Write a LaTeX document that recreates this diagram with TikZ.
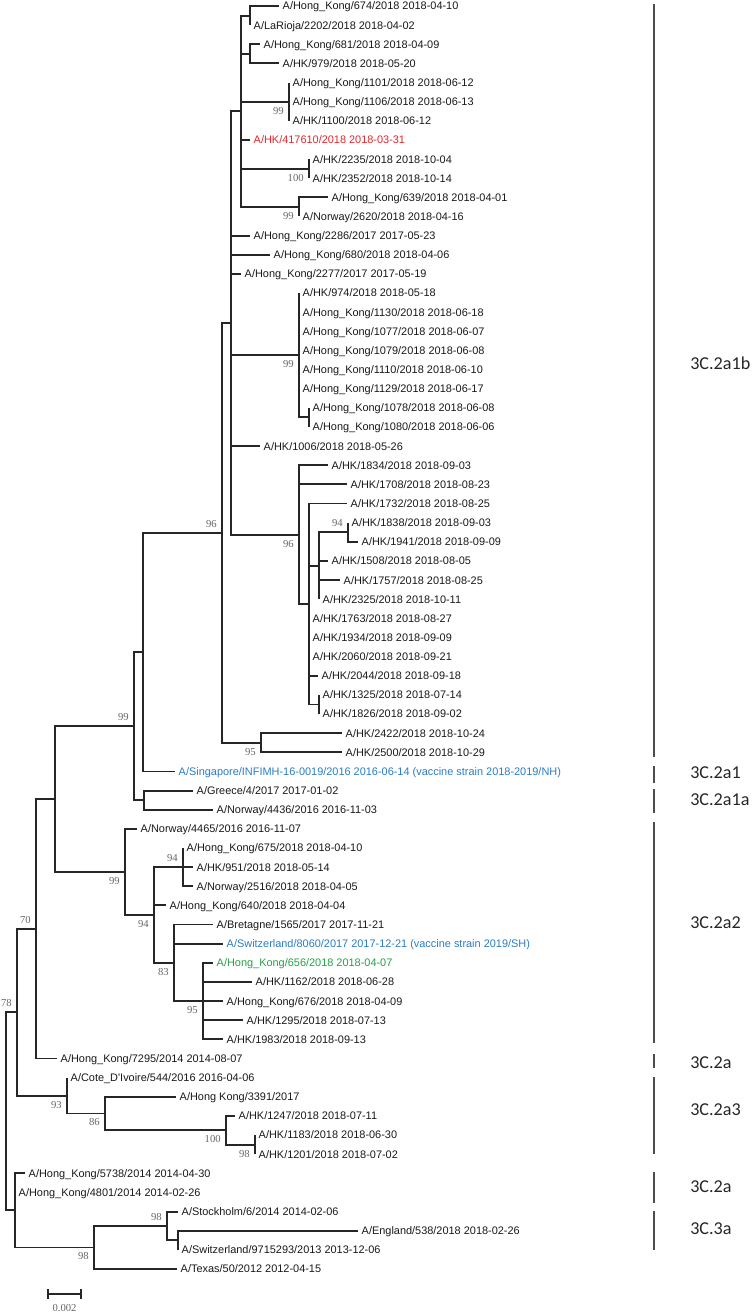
\documentclass[tikz,border=0pt]{standalone}
\usepackage{fontspec}
\setmainfont{Liberation Sans}
\newfontfamily\bsfont{Liberation Serif}
\newfontfamily\cladefont{Carlito}
\definecolor{refred}{RGB}{228,38,46}
\definecolor{vacblue}{RGB}{42,124,196}
\definecolor{hkgreen}{RGB}{36,160,72}
\tikzset{
  br/.style={line width=1.4pt, draw=black!85},
  leaf/.style={anchor=west, inner xsep=2.6pt, inner ysep=0pt, text height=5.9pt,
    text depth=0pt, font=\fontsize{8.2}{9}\selectfont, text=black!90},
  bslab/.style={font=\bsfont\fontsize{8}{9}\selectfont, text=black!60, inner sep=0pt,
    text height=5.4pt, text depth=0pt},
  bsb/.style={label={[bslab]below left:#1}},
  bsa/.style={label={[bslab]above left:#1}},
  grp/.style={line width=0.9pt, draw=black!70},
  clade/.style={anchor=west, inner sep=0pt, font=\cladefont\fontsize{13.6}{15}\selectfont,
    text=black!85},
}
\begin{document}
\begin{tikzpicture}[x=0.75pt, y=-14.352pt, label distance=5.3pt]
\useasboundingbox (0,0.6865) rectangle (751,69.353);
% leaves: x = end of branch, y = row
\node[leaf] (l1) at (279,1) {A/Hong\_Kong/674/2018 2018-04-10};
\node[leaf] (l2) at (250,2) {A/LaRioja/2202/2018 2018-04-02};
\node[leaf] (l3) at (260,3) {A/Hong\_Kong/681/2018 2018-04-09};
\node[leaf] (l4) at (279,4) {A/HK/979/2018 2018-05-20};
\node[leaf] (l5) at (289,5) {A/Hong\_Kong/1101/2018 2018-06-12};
\node[leaf] (l6) at (289,6) {A/Hong\_Kong/1106/2018 2018-06-13};
\node[leaf] (l7) at (289,7) {A/HK/1100/2018 2018-06-12};
\node[leaf, text=refred] (l8) at (250,8) {A/HK/417610/2018 2018-03-31};
\node[leaf] (l9) at (309,9) {A/HK/2235/2018 2018-10-04};
\node[leaf] (l10) at (309,10) {A/HK/2352/2018 2018-10-14};
\node[leaf] (l11) at (328,11) {A/Hong\_Kong/639/2018 2018-04-01};
\node[leaf] (l12) at (299,12) {A/Norway/2620/2018 2018-04-16};
\node[leaf] (l13) at (250,13) {A/Hong\_Kong/2286/2017 2017-05-23};
\node[leaf] (l14) at (270,14) {A/Hong\_Kong/680/2018 2018-04-06};
\node[leaf] (l15) at (241,15) {A/Hong\_Kong/2277/2017 2017-05-19};
\node[leaf] (l16) at (299,16) {A/HK/974/2018 2018-05-18};
\node[leaf] (l17) at (299,17) {A/Hong\_Kong/1130/2018 2018-06-18};
\node[leaf] (l18) at (299,18) {A/Hong\_Kong/1077/2018 2018-06-07};
\node[leaf] (l19) at (299,19) {A/Hong\_Kong/1079/2018 2018-06-08};
\node[leaf] (l20) at (299,20) {A/Hong\_Kong/1110/2018 2018-06-10};
\node[leaf] (l21) at (299,21) {A/Hong\_Kong/1129/2018 2018-06-17};
\node[leaf] (l22) at (309,22) {A/Hong\_Kong/1078/2018 2018-06-08};
\node[leaf] (l23) at (309,23) {A/Hong\_Kong/1080/2018 2018-06-06};
\node[leaf] (l24) at (260,24) {A/HK/1006/2018 2018-05-26};
\node[leaf] (l25) at (328,25) {A/HK/1834/2018 2018-09-03};
\node[leaf] (l26) at (347,26) {A/HK/1708/2018 2018-08-23};
\node[leaf] (l27) at (347,27) {A/HK/1732/2018 2018-08-25};
\node[leaf] (l28) at (348,28) {A/HK/1838/2018 2018-09-03};
\node[leaf] (l29) at (358,29) {A/HK/1941/2018 2018-09-09};
\node[leaf] (l30) at (328,30) {A/HK/1508/2018 2018-08-05};
\node[leaf] (l31) at (340,31) {A/HK/1757/2018 2018-08-25};
\node[leaf] (l32) at (319,32) {A/HK/2325/2018 2018-10-11};
\node[leaf] (l33) at (309,33) {A/HK/1763/2018 2018-08-27};
\node[leaf] (l34) at (309,34) {A/HK/1934/2018 2018-09-09};
\node[leaf] (l35) at (309,35) {A/HK/2060/2018 2018-09-21};
\node[leaf] (l36) at (318,36) {A/HK/2044/2018 2018-09-18};
\node[leaf] (l37) at (319,37) {A/HK/1325/2018 2018-07-14};
\node[leaf] (l38) at (319,38) {A/HK/1826/2018 2018-09-02};
\node[leaf] (l39) at (342,39) {A/HK/2422/2018 2018-10-24};
\node[leaf] (l40) at (342,40) {A/HK/2500/2018 2018-10-29};
\node[leaf, text=vacblue] (l41) at (175,41) {A/Singapore/INFIMH-16-0019/2016 2016-06-14 (vaccine strain 2018-2019/NH)};
\node[leaf] (l42) at (193,42) {A/Greece/4/2017 2017-01-02};
\node[leaf] (l43) at (213,43) {A/Norway/4436/2016 2016-11-03};
\node[leaf] (l44) at (137,44) {A/Norway/4465/2016 2016-11-07};
\node[leaf] (l45) at (183,45) {A/Hong\_Kong/675/2018 2018-04-10};
\node[leaf] (l46) at (193,46) {A/HK/951/2018 2018-05-14};
\node[leaf] (l47) at (193,47) {A/Norway/2516/2018 2018-04-05};
\node[leaf] (l48) at (166,48) {A/Hong\_Kong/640/2018 2018-04-04};
\node[leaf] (l49) at (213,49) {A/Bretagne/1565/2017 2017-11-21};
\node[leaf, text=vacblue] (l50) at (223,50) {A/Switzerland/8060/2017 2017-12-21 (vaccine strain 2019/SH)};
\node[leaf, text=hkgreen] (l51) at (213,51) {A/Hong\_Kong/656/2018 2018-04-07};
\node[leaf] (l52) at (252,52) {A/HK/1162/2018 2018-06-28};
\node[leaf] (l53) at (223,53) {A/Hong\_Kong/676/2018 2018-04-09};
\node[leaf] (l54) at (243,54) {A/HK/1295/2018 2018-07-13};
\node[leaf] (l55) at (223,55) {A/HK/1983/2018 2018-09-13};
\node[leaf] (l56) at (57,56) {A/Hong\_Kong/7295/2014 2014-08-07};
\node[leaf] (l57) at (67,57) {A/Cote\_D\textquotesingle Ivoire/544/2016 2016-04-06};
\node[leaf] (l58) at (176,58) {A/Hong Kong/3391/2017};
\node[leaf] (l59) at (235,59) {A/HK/1247/2018 2018-07-11};
\node[leaf] (l60) at (255,60) {A/HK/1183/2018 2018-06-30};
\node[leaf] (l61) at (255,61) {A/HK/1201/2018 2018-07-02};
\node[leaf] (l62) at (25,62) {A/Hong\_Kong/5738/2014 2014-04-30};
\node[leaf] (l63) at (15,63) {A/Hong\_Kong/4801/2014 2014-02-26};
\node[leaf] (l64) at (178,64) {A/Stockholm/6/2014 2014-02-06};
\node[leaf] (l65) at (358,65) {A/England/538/2018 2018-02-26};
\node[leaf] (l66) at (178,66) {A/Switzerland/9715293/2013 2013-12-06};
\node[leaf] (l67) at (177,67) {A/Texas/50/2012 2012-04-15};
% inner nodes
\coordinate (n674) at (250,1.5);
\coordinate (n681) at (250,3.5);
\coordinate[bsb=99] (n1101) at (289,6);
\coordinate[bsb=100] (n2235) at (309,9.5);
\coordinate[bsb=99] (n639) at (299,11.5);
\coordinate (nA) at (241,6.5);
\coordinate (n1078) at (309,22.5);
\coordinate[bsb=99] (nF) at (299,19.25);
\coordinate[bsa=94] (nJ) at (348,28.5);
\coordinate (nI) at (319,30.25);
\coordinate (nK) at (319,37.5);
\coordinate (nH) at (309,32.25);
\coordinate[bsb=96] (nG) at (299,28.625);
\coordinate (nB) at (231,17.5625);
\coordinate[bsb=95] (nL) at (261,39.5);
\coordinate[bsa=96] (nM) at (222,28.5313);
\coordinate (nQ) at (143,34.7656);
\coordinate (nS) at (144,42.5);
\coordinate[bsa=99] (nR) at (134,38.6328);
\coordinate[bsa=94] (nX) at (183,46);
\coordinate[bsb=95] (nY) at (203,53);
\coordinate[bsb=83] (nW) at (174,51);
\coordinate[bsb=94] (nV) at (154,48.5);
\coordinate[bsb=99] (nU) at (125,46.25);
\coordinate (nT) at (55,42.4414);
\coordinate[bsa=70] (nZ) at (36,49.2207);
\coordinate[bsb=98] (nFF) at (255,60.5);
\coordinate[bsb=100] (nEE) at (226,59.75);
\coordinate[bsb=86] (nDD) at (105,58.875);
\coordinate[bsb=93] (nCC) at (67,57.9375);
\coordinate[bsa=78] (nAA) at (17,53.5791);
\coordinate (nII) at (178,65.5);
\coordinate[bsa=98] (nHH) at (167,64.75);
\coordinate[bsb=98] (nGG) at (94,65.875);
\coordinate (nBB) at (15,63.9375);
\coordinate (root) at (6,58.7583);
% branches
\foreach \p/\c in {n674/l1.west, n674/l2.west, n681/l3.west, n681/l4.west,
    n1101/l5.west, n1101/l6.west, n1101/l7.west, n2235/l9.west, n2235/l10.west,
    n639/l11.west, n639/l12.west,
    nA/n674, nA/n681, nA/n1101, nA/l8.west, nA/n2235, nA/n639,
    n1078/l22.west, n1078/l23.west,
    nF/l16.west, nF/l17.west, nF/l18.west, nF/l19.west, nF/l20.west, nF/l21.west, nF/n1078,
    nJ/l28.west, nJ/l29.west,
    nI/nJ, nI/l30.west, nI/l31.west, nI/l32.west,
    nK/l37.west, nK/l38.west,
    nH/l27.west, nH/nI, nH/l33.west, nH/l34.west, nH/l35.west, nH/l36.west, nH/nK,
    nG/l25.west, nG/l26.west, nG/nH,
    nB/nA, nB/l13.west, nB/l14.west, nB/l15.west, nB/nF, nB/l24.west, nB/nG,
    nL/l39.west, nL/l40.west,
    nM/nB, nM/nL,
    nQ/nM, nQ/l41.west,
    nS/l42.west, nS/l43.west,
    nR/nQ, nR/nS,
    nX/l45.west, nX/l46.west, nX/l47.west,
    nY/l51.west, nY/l52.west, nY/l53.west, nY/l54.west, nY/l55.west,
    nW/l49.west, nW/l50.west, nW/nY,
    nV/nX, nV/l48.west, nV/nW,
    nU/l44.west, nU/nV,
    nT/nR, nT/nU,
    nZ/nT, nZ/l56.west,
    nFF/l60.west, nFF/l61.west,
    nEE/l59.west, nEE/nFF,
    nDD/l58.west, nDD/nEE,
    nCC/l57.west, nCC/nDD,
    nAA/nZ, nAA/nCC,
    nII/l65.west, nII/l66.west,
    nHH/l64.west, nHH/nII,
    nGG/nHH, nGG/l67.west,
    nBB/l62.west, nBB/l63.west, nBB/nGG,
    root/nAA, root/nBB}
  \draw[br] (\p) |- (\c);
% clade bars
\draw[grp] (654,0.896) -- (654,40.25);
\draw[grp] (654,40.72) -- (654,41.60);
\draw[grp] (654,41.92) -- (654,43.17);
\draw[grp] (654,43.64) -- (654,55.19);
\draw[grp] (654,55.77) -- (654,56.50);
\draw[grp] (654,56.97) -- (654,60.99);
\draw[grp] (654,61.93) -- (654,63.55);
\draw[grp] (654,63.97) -- (654,66.01);
\node[clade] (c1) at (690,19.66) {3C.2a1b};
\node[clade] (c2) at (690,41.08) {3C.2a1};
\node[clade] (c3) at (690,42.49) {3C.2a1a};
\node[clade] (c4) at (690,48.92) {3C.2a2};
\node[clade] (c5) at (690,56.24) {3C.2a};
\node[clade] (c6) at (690,58.69) {3C.2a3};
\node[clade] (c7) at (690,62.72) {3C.2a};
\node[clade] (c8) at (690,64.91) {3C.3a};
% scale bar
\coordinate (sb0) at (48,68.31);
\coordinate (sb1) at (81,68.31);
\draw[br, line width=1.2pt] (sb0) -- (sb1);
\draw[br, line width=1.2pt] ([yshift=3.7pt]sb0) -- ([yshift=-3.7pt]sb0);
\draw[br, line width=1.2pt] ([yshift=3.7pt]sb1) -- ([yshift=-3.7pt]sb1);
\node[bslab] (sbl) at (64.5,69.04) {0.002};
\end{tikzpicture}
\end{document}
